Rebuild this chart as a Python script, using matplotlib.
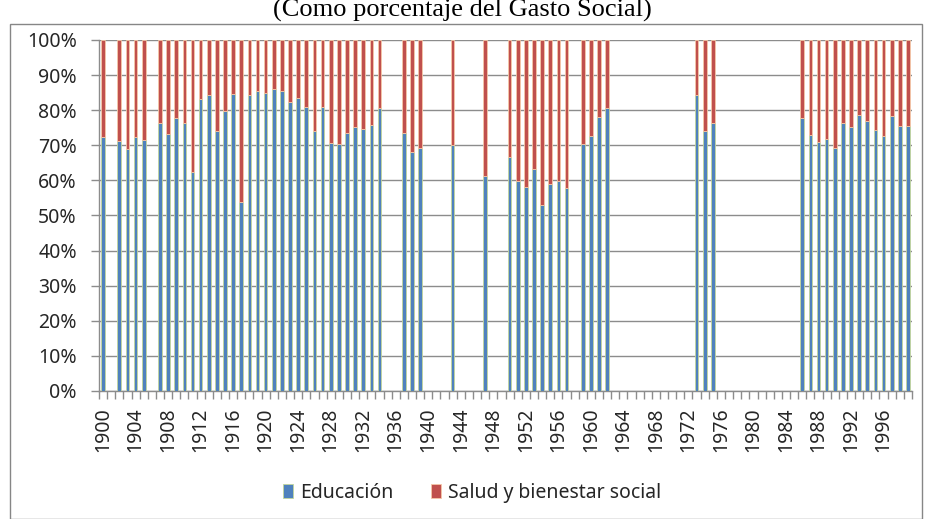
import matplotlib
matplotlib.use("Agg")
import matplotlib.pyplot as plt
from matplotlib.patches import Rectangle
import numpy as np

# ---- data ----
years = list(range(1900, 2000))
educacion = [
    72.5, None, 71.1, 68.9, 72.3, 71.6, None, 76.3, 73.1, 77.8,   # 1900-1909
    76.4, 62.5, 83.3, 84.2, 74.2, 79.7, 84.5, 53.8, 84.2, 85.6,   # 1910-1919
    85.0, 85.9, 85.6, 82.4, 83.6, 81.0, 74.2, 81.0, 70.6, 70.3,   # 1920-1929
    73.4, 75.1, 74.7, 75.7, 80.7, None, None, 73.4, 68.0, 69.2,   # 1930-1939
    None, None, None, 70.1, None, None, None, 61.3, None, None,   # 1940-1949
    66.7, 59.7, 58.2, 63.3, 52.9, 58.9, 59.7, 57.8, None, 70.3,   # 1950-1959
    72.6, 78.1, 80.7, None, None, None, None, None, None, None,   # 1960-1969
    None, None, None, 84.2, 74.2, 76.4, None, None, None, None,   # 1970-1979
    None, None, None, None, None, None, 77.7, 73.0, 70.9, 71.9,   # 1980-1989
    69.2, 76.4, 75.1, 78.7, 76.8, 74.5, 72.6, 78.3, 75.4, 75.4,   # 1990-1999
]
series_names = ["Educación", "Salud y bienestar social"]
title = "(Como porcentaje del Gasto Social)"
ytick_vals = list(range(0, 101, 10))
ytick_labels = [f"{v}%" for v in ytick_vals]
xtick_labels = [str(y) for y in years[::4]]

# ---- derived ----
idx = [i for i, v in enumerate(educacion) if v is not None]
edu_vals = np.array([educacion[i] for i in idx])
sal_vals = 100.0 - edu_vals

W, H = 925, 519
fig = plt.figure(figsize=(W / 100, H / 100), dpi=100)
plt.rcParams['font.family'] = ['Noto Sans', 'DejaVu Sans']
txt_color = '#262626'
grid_color = '#8c8c8c'

ax = fig.add_axes([99 / W, 1 - 391 / H, (912 - 99) / W, (391 - 40) / H])

blue = '#4F81BD'
red = '#C0504D'
bw = 0.45
ax.bar(idx, edu_vals, width=bw, color=blue, edgecolor='#C3D69B', linewidth=0.6,
       label=series_names[0], zorder=3)
ax.bar(idx, sal_vals, bottom=edu_vals, width=bw, color=red, edgecolor='#F5C8A8',
       linewidth=0.6, label=series_names[1], zorder=3)

ax.set_xlim(-0.5, len(years) - 0.5)
ax.set_ylim(0, 100)

ax.set_yticks(ytick_vals)
ax.set_yticklabels(ytick_labels, fontsize=14, color=txt_color)
ax.yaxis.grid(True, color=grid_color, linewidth=1.0, zorder=0)
ax.tick_params(axis='y', direction='out', length=6, width=1, color=grid_color, pad=10)

ax.set_xticks(list(range(0, len(years), 4)))
ax.set_xticklabels(xtick_labels, rotation=90, fontsize=14, color=txt_color)
ax.set_xticks(np.arange(-0.5, len(years), 1.0), minor=True)
ax.tick_params(axis='x', which='major', length=0, pad=12)
ax.tick_params(axis='x', which='minor', direction='out', length=6, width=1, color=grid_color)

for s in ['top', 'right']:
    ax.spines[s].set_visible(False)
for s in ['left', 'bottom']:
    ax.spines[s].set_color(grid_color)
    ax.spines[s].set_linewidth(1.0)
ax.set_axisbelow(True)

# outer chart frame
fig.patches.append(Rectangle((9.5 / W, 0.5 / H), (922 - 9.5) / W, (518 - 23.5) / H,
                             transform=fig.transFigure, fill=False,
                             edgecolor='#868686', linewidth=1.0))

fig.text(462 / W, 1 - 17 / H, title, ha='center', va='baseline',
         fontsize=19, family='Liberation Serif', color='black')

handles, labels = ax.get_legend_handles_labels()
fig.legend(handles, labels, loc='center', bbox_to_anchor=(472 / W, 1 - 493 / H),
           ncol=2, frameon=False, fontsize=14, handlelength=0.55, handleheight=0.7,
           handletextpad=0.35, columnspacing=1.9, labelcolor=txt_color)

fig.savefig('out.png', dpi=100)
